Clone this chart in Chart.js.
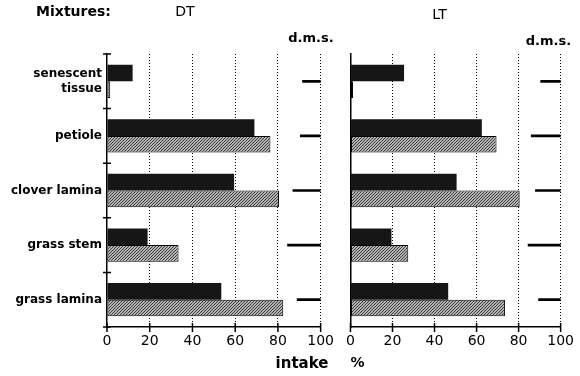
<!DOCTYPE html>
<html>
<head>
<meta charset="utf-8">
<script src="https://cdn.jsdelivr.net/npm/chart.js@4/dist/chart.umd.min.js"></script>
<style>
  html, body { margin: 0; padding: 0; background: #fff; }
  #wrap { position: relative; width: 580px; height: 376px; overflow: hidden; }
  canvas { position: absolute; top: 0; }
  #dt { left: 0; }
  #lt { left: 340px; }
</style>
</head>
<body>
<div id="wrap">
  <canvas id="dt" width="340" height="376"></canvas>
  <canvas id="lt" width="240" height="376"></canvas>
</div>
<script>
// categories, top to bottom
const categories = [['senescent', 'tissue'], 'petiole', 'clover lamina', 'grass stem', 'grass lamina'];
const xTicks = [0, 20, 40, 60, 80, 100];

// DT mixture: dark bars, hatched bars, d.m.s. length
const dtDark = [12, 69, 59.5, 19, 53.5];
const dtLight = [1.5, 76.5, 80.5, 33.5, 82.5];
const dtDms = [8.5, 9.5, 13, 15.5, 11];

// LT mixture
const ltDark = [25.5, 62.5, 50.5, 19.5, 46.5];
const ltLight = [1.2, 69.5, 80.5, 27.5, 73.5];
const ltDms = [9.5, 14, 12, 15.5, 10.5];

Chart.defaults.font.family = "'DejaVu Sans', sans-serif";
Chart.defaults.color = '#000';

// fine diagonal hatch for the light bars
function hatch() {
  const c = document.createElement('canvas');
  c.width = 3; c.height = 3;
  const g = c.getContext('2d');
  g.fillStyle = '#b4b4b4';
  g.fillRect(0, 0, 3, 3);
  g.fillStyle = '#3c3c3c';
  for (let i = 0; i < 3; i++) g.fillRect(i, 2 - i, 1, 1);
  return g.createPattern(c, 'repeat');
}

// d.m.s. segments hang off the 100 line
function dmsRanges(arr) {
  return arr.map(function (d) { return [100 - d, 100]; });
}

// little crossing tick marks on the axes, plus the free text
const decor = {
  id: 'decor',
  afterDraw: function (chart, args, opts) {
    const ctx = chart.ctx;
    const x = chart.scales.x, y = chart.scales.y;
    const a = chart.chartArea;
    ctx.save();
    ctx.strokeStyle = '#000';
    ctx.lineWidth = 1.5;
    ctx.beginPath();
    xTicks.forEach(function (v) {
      const px = x.getPixelForValue(v);
      ctx.moveTo(px, a.bottom - 4);
      ctx.lineTo(px, a.bottom + 5);
    });
    if (opts.yTicks) {
      for (let i = 0; i <= categories.length; i++) {
        const py = y.getPixelForValue(i - 0.5);
        ctx.moveTo(a.left - 4, py);
        ctx.lineTo(a.left + 4, py);
      }
    }
    ctx.stroke();
    ctx.fillStyle = '#000';
    ctx.textBaseline = 'middle';
    ctx.textAlign = 'center';
    (opts.texts || []).forEach(function (t) {
      ctx.font = t.font;
      ctx.fillText(t.text, t.x, t.y);
    });
    ctx.restore();
  }
};

function makeChart(el, dark, light, dms, yWidth, showLabels, padRight, texts) {
  return new Chart(document.getElementById(el), {
    type: 'bar',
    data: {
      labels: categories,
      datasets: [{
        data: dark,
        backgroundColor: '#161616',
        borderWidth: 0,
        categoryPercentage: 0.61,
        barPercentage: 1
      }, {
        data: light,
        backgroundColor: hatch(),
        borderColor: '#000',
        borderWidth: 1,
        borderSkipped: false,
        categoryPercentage: 0.61,
        barPercentage: 1
      }, {
        data: dmsRanges(dms),
        backgroundColor: '#000',
        borderWidth: 0,
        grouped: false,
        barThickness: 2
      }]
    },
    options: {
      indexAxis: 'y',
      responsive: false,
      animation: false,
      layout: { padding: { top: 54, right: padRight, bottom: 0, left: 0 } },
      plugins: {
        legend: { display: false },
        tooltip: { enabled: false },
        decor: { yTicks: showLabels, texts: texts }
      },
      scales: {
        x: {
          min: 0,
          max: 100,
          afterFit: function (s) { s.height = 49; },
          afterBuildTicks: function (s) { s.ticks = xTicks.map(function (v) { return { value: v }; }); },
          ticks: { font: { size: 14 }, padding: 6, maxRotation: 0 },
          grid: {
            color: function (c) { return c.tick && c.tick.value === 0 ? 'rgba(0,0,0,0)' : '#000'; },
            lineWidth: 1,
            drawTicks: false
          },
          border: { display: true, color: '#000', width: 1.5, dash: [1, 2] }
        },
        y: {
          afterFit: function (s) { s.width = yWidth; },
          ticks: {
            display: showLabels,
            font: { size: 12, weight: 'bold', lineHeight: 1.25 },
            padding: 5
          },
          grid: { color: 'rgba(0,0,0,0)', drawTicks: false },
          border: { display: true, color: '#000', width: 1.5 }
        }
      }
    },
    plugins: [decor]
  });
}

makeChart('dt', dtDark, dtLight, dtDms, 107, true, 17, [
  { text: 'Mixtures:', x: 73.5, y: 12, font: "bold 14px 'DejaVu Sans'" },
  { text: 'DT', x: 185, y: 12, font: "14px 'DejaVu Sans'" },
  { text: 'd.m.s.', x: 311, y: 39, font: "bold 13px 'DejaVu Sans'" },
  { text: 'intake', x: 302, y: 364, font: "bold 15px 'DejaVu Sans'" }
]);

makeChart('lt', ltDark, ltLight, ltDms, 9, false, 18, [
  { text: 'LT', x: 99.5, y: 15, font: "14px 'DejaVu Sans'" },
  { text: 'd.m.s.', x: 208.5, y: 42, font: "bold 13px 'DejaVu Sans'" },
  { text: '%', x: 17.5, y: 363, font: "bold 14px 'DejaVu Sans'" }
]);
</script>
</body>
</html>
